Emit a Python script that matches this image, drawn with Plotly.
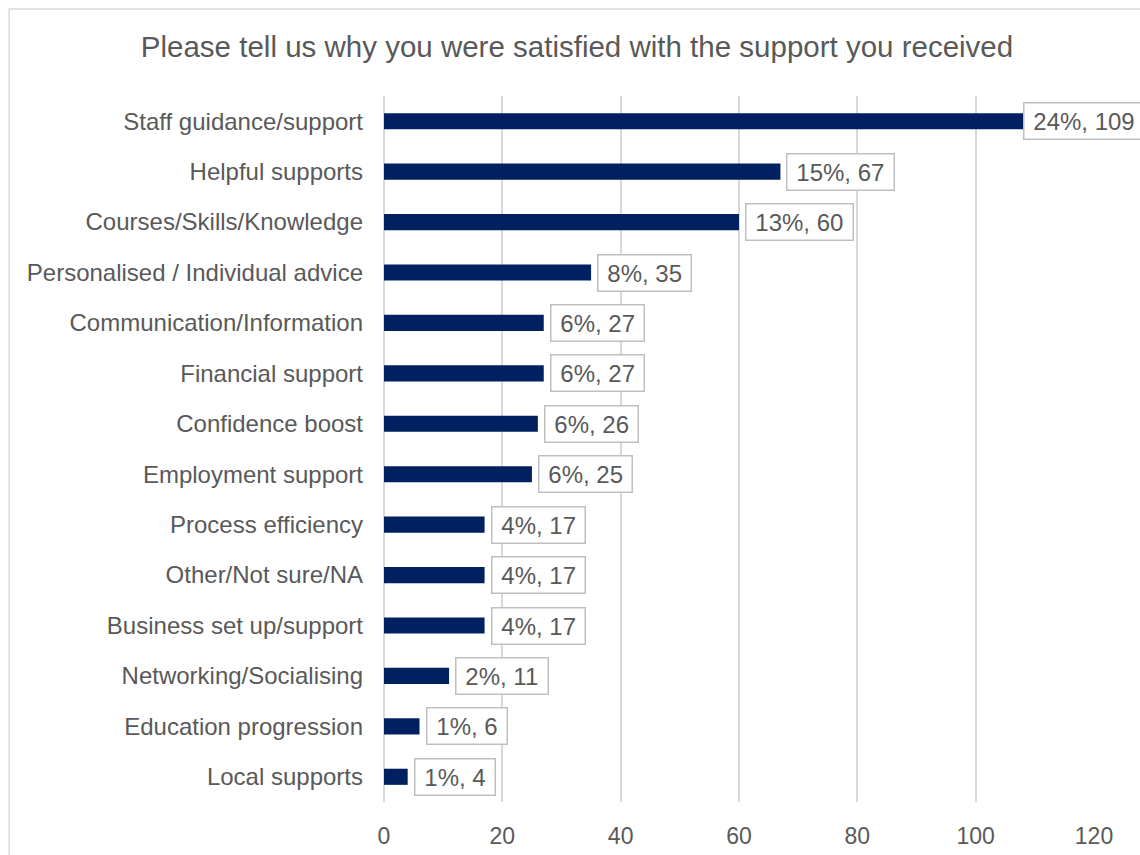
import plotly.graph_objects as go

# Survey responses: reasons for satisfaction (counts and share of responses)
categories = [
    "Staff guidance/support",
    "Helpful supports",
    "Courses/Skills/Knowledge",
    "Personalised / Individual advice",
    "Communication/Information",
    "Financial support",
    "Confidence boost",
    "Employment support",
    "Process efficiency",
    "Other/Not sure/NA",
    "Business set up/support",
    "Networking/Socialising",
    "Education progression",
    "Local supports",
]
counts = [109, 67, 60, 35, 27, 27, 26, 25, 17, 17, 17, 11, 6, 4]
percents = [24, 15, 13, 8, 6, 6, 6, 6, 4, 4, 4, 2, 1, 1]
x_ticks = [0, 20, 40, 60, 80, 100, 120]

FONT = "Arial, Liberation Sans, sans-serif"
TEXT = "#595959"
NAVY = "#002060"
GRID = "#d9d9d9"

fig = go.Figure(
    go.Bar(
        x=counts,
        y=categories,
        orientation="h",
        marker=dict(color=NAVY, line=dict(width=0)),
        width=0.32,
        hoverinfo="skip",
    )
)

# Boxed data labels "pct%, count" beside each bar
max_count = max(counts)
for cat, n, p in zip(categories, counts, percents):
    fig.add_annotation(
        x=n,
        y=cat,
        xref="x",
        yref="y",
        text=f"\u2009{p}%, {n}\u2009",
        showarrow=False,
        xanchor="left",
        yanchor="middle",
        xshift=-6 if n == max_count else 6,
        font=dict(family=FONT, size=24, color=TEXT),
        bgcolor="white",
        bordercolor="#bfbfbf",
        borderwidth=1.5,
        borderpad=4,
    )

# Light outer frame of the chart area
fig.add_shape(
    type="rect",
    xref="paper",
    yref="paper",
    x0=-0.528,
    x1=1.2,
    y0=-0.3,
    y1=1.1232,
    line=dict(color=GRID, width=1.5),
    fillcolor="rgba(0,0,0,0)",
    layer="below",
)

fig.update_layout(
    width=1140,
    height=855,
    margin=dict(l=384, r=46, t=96, b=53),
    paper_bgcolor="white",
    plot_bgcolor="white",
    showlegend=False,
    title=dict(
        text="Please tell us why you were satisfied with the support you received",
        x=577 / 1140,
        xanchor="center",
        xref="container",
        y=1 - 47 / 855,
        yanchor="middle",
        yref="container",
        font=dict(family=FONT, size=29.5, color=TEXT),
    ),
    xaxis=dict(
        range=[0, 120],
        tickvals=x_ticks,
        showgrid=True,
        gridcolor=GRID,
        gridwidth=1.5,
        zeroline=True,
        zerolinecolor=GRID,
        zerolinewidth=1.5,
        showline=False,
        ticks="",
        ticklabelstandoff=18,
        tickfont=dict(family=FONT, size=23, color=TEXT),
        automargin=False,
        fixedrange=True,
    ),
    yaxis=dict(
        categoryorder="array",
        categoryarray=categories[::-1],
        showgrid=False,
        zeroline=False,
        showline=False,
        ticks="",
        ticklabelstandoff=20,
        tickfont=dict(family=FONT, size=24, color=TEXT),
        automargin=False,
        fixedrange=True,
    ),
)

fig.write_html("out.html")
